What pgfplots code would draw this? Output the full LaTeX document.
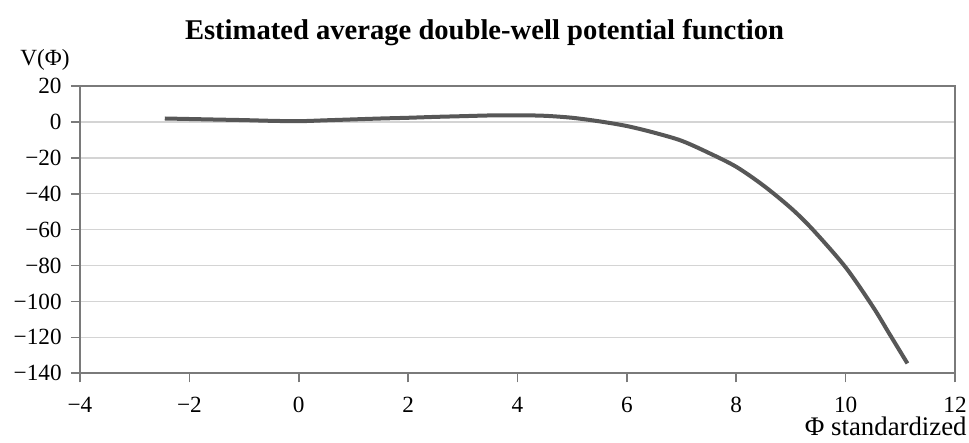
\documentclass[border=0pt]{standalone}
\usepackage{fontspec}
\setmainfont{Liberation Serif}
\usepackage{pgfplots}
\pgfplotsset{compat=1.18}
\definecolor{curve}{HTML}{575757}
\definecolor{gridc}{HTML}{D4D4D4}
\definecolor{axisc}{HTML}{7A7A7A}
\begin{document}
\begin{tikzpicture}
\useasboundingbox (0pt,0pt) rectangle (484.5pt,221.5pt);
\begin{axis}[
  at={(40pt,34.85pt)}, anchor=south west,
  scale only axis, width=437.5pt, height=143.65pt,
  xmin=-4, xmax=12, ymin=-140, ymax=20,
  xtick={-4,-2,...,12}, ytick={-140,-120,...,20},
  xticklabels={−4,−2,0,2,4,6,8,10,12},
  yticklabels={−140,−120,−100,−80,−60,−40,−20,0,20},
  tick align=outside, tick pos=left,
  major tick length=4.5pt,
  every tick/.style={axisc, line width=0.8pt},
  axis line style={axisc, line width=0.9pt},
  ymajorgrids, grid style={gridc, line width=0.75pt},
  tick label style={font=\fontsize{11.6}{13}\selectfont, text=black},
  yticklabel style={anchor=east, inner sep=0pt, xshift=-4.5pt},
  xticklabel style={anchor=north, inner sep=0pt, text height=7.6pt, text depth=0pt, yshift=-7.3pt},
  clip=false,
]
\addplot[curve, line width=2pt, smooth, tension=0.5] coordinates {
(-2.45,1.9) (-1.5,1.3) (-1.0,1.0) (-0.5,0.6) (0,0.4) (0.5,0.9) (1,1.4)
(1.5,1.9) (2,2.3) (2.5,2.8) (3,3.2) (3.5,3.6) (4,3.7) (4.5,3.4) (5,2.3)
(5.5,0.3) (6,-2.3) (6.5,-6) (7,-10.5) (7.5,-17.3) (8,-25) (8.5,-35.5)
(9,-48) (9.4,-60) (10,-81) (10.5,-103) (10.8,-118) (11.13,-134.5)
};
\end{axis}
\node[anchor=base, font=\fontsize{14.3}{17}\selectfont\bfseries] at (242.25pt,201.5pt) {Estimated average double-well potential function};
\node[anchor=base east, inner sep=0pt, font=\fontsize{11.6}{13}\selectfont] at (35pt,188.5pt) {V(Φ)};
\node[anchor=base east, inner sep=0pt, font=\fontsize{13.4}{15}\selectfont] at (483.5pt,3.5pt) {Φ standardized};
\end{tikzpicture}
\end{document}
